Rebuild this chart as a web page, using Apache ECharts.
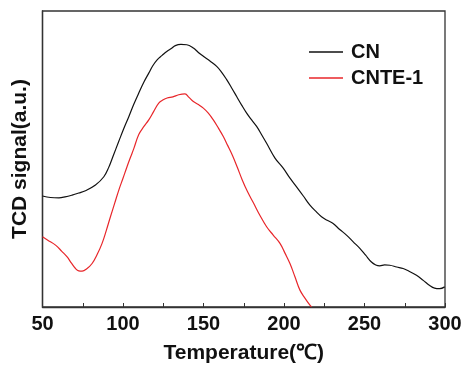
<!DOCTYPE html>
<html><head><meta charset="utf-8">
<script src="https://cdn.jsdelivr.net/npm/echarts@6/dist/echarts.min.js"></script>
<style>html,body{margin:0;padding:0;background:#fff}#c{width:464px;height:365px}</style>
</head><body><div id="c"></div>
<script>
var cnT = [50,55,60.2,64,68.4,72.5,76.7,82.9,88.1,91,94,97.4,100.5,103.6,106.7,109.8,113,116.0,118.5,121.2,124.3,127.4,130,132.5,136,139.6,143.7,146.8,149.9,154,158.2,161.3,164.4,167.5,170.6,173.7,176.8,179.9,183.0,186.1,189.2,194.4,199.5,203.6,207.8,212,216.1,220,223.3,226.8,230.5,234.6,238.8,243,247.1,250.7,254.3,257,259.5,262.5,265.7,270,274.0,278,282.3,286.5,290.5,293.5,296.7,299.8];
var cnV = [37.5,37.0,36.9,37.2,37.8,38.5,39.3,41.2,44.0,47.0,51.2,56.0,60.3,64.3,68.5,72.3,76.0,79.0,81.5,83.5,85.0,86.4,87.3,88.3,88.7,88.6,87.5,86.0,84.7,83.1,81.3,79.3,76.8,74.0,71.1,68.2,65.5,63.2,61.0,58.2,55.3,50.3,46.9,43.6,40.6,37.5,34.4,32.2,30.5,29.3,28.2,26.2,24.3,22.0,19.8,17.5,15.2,14.2,13.9,14.2,14.1,13.5,13.0,12.0,10.7,9.0,7.3,6.4,6.2,6.8];
var cnteT = [50,53.5,58.1,62,65.3,68,70.5,72.5,74.6,77.5,80.8,84,87.0,89.6,92.2,94.8,97.4,100,102.5,104.6,106.7,109.8,113,116.0,119,122.2,125,127.4,131,134.6,138.5,141,143.7,146.8,149.9,153,156.1,159.2,162.3,165,168,171,174,177.3,180.9,185,189.2,193.3,197.5,200.6,203.7,206.8,209.9,213,216.1,217.1];
var cnteV = [23.7,22.5,20.9,18.8,16.9,14.8,13.0,12.2,12.1,12.9,14.7,17.8,21.5,25.8,30.5,35.0,39.5,43.5,47.4,50.5,53.5,58.3,61.0,63.2,66.0,68.9,70.0,70.6,71.0,71.7,72.0,70.8,69.4,68.4,67.2,65.5,63.2,60.5,57.6,54.6,51.2,47.2,43.0,39.0,35.3,31.0,27.1,24.3,21.5,18.2,14.7,10.2,5.7,3.0,0.6,0];
var xTicks = [50,100,150,200,250,300];

function pairs(t, v){ return t.map(function(x,i){ return [x, v[i]]; }); }
var chart = echarts.init(document.getElementById('c'), null, {renderer:'canvas'});
var fontF = 'Arial, "Liberation Sans", sans-serif';
chart.setOption({
  animation:false,
  grid:{left:42.5,right:19,top:11,bottom:58,outerBoundsMode:'none',containLabel:false,show:true,borderColor:'#333',borderWidth:1.3,backgroundColor:'transparent'},
  legend:{
    orient:'vertical', left:304, top:37, itemWidth:34, itemHeight:1.5, itemGap:6, icon:'rect',
    textStyle:{fontFamily:fontF,fontWeight:'bold',fontSize:20,color:'#111',padding:[0,0,0,3]},
    data:['CN','CNTE-1']
  },
  xAxis:{
    type:'value', min:50, max:300, interval:25,
    axisLine:{show:true,lineStyle:{color:'#333',width:1.3}},
    axisTick:{show:true,inside:true,length:4,lineStyle:{color:'#333'}},
    splitLine:{show:false},
    axisLabel:{margin:7,fontFamily:fontF,fontWeight:'bold',fontSize:20,color:'#111',
      formatter:function(v){ return xTicks.indexOf(v)>=0 ? String(v) : ''; }},
    name:'Temperature(℃)', nameLocation:'middle', nameGap:36,
    nameTextStyle:{fontFamily:fontF,fontWeight:'bold',fontSize:21,color:'#111'}
  },
  yAxis:{
    type:'value', min:0, max:100,
    axisLine:{show:true,lineStyle:{color:'#333',width:1.3}},
    axisTick:{show:false}, axisLabel:{show:false}, splitLine:{show:false},
    name:'TCD signal(a.u.)', nameLocation:'middle', nameGap:12,
    nameTextStyle:{fontFamily:fontF,fontWeight:'bold',fontSize:21,color:'#111'}
  },
  series:[
    {name:'CN',type:'line',data:pairs(cnT,cnV),symbol:'none',smooth:0.4,lineStyle:{color:'#111',width:1.2},itemStyle:{color:'#111'},clip:true},
    {name:'CNTE-1',type:'line',data:pairs(cnteT,cnteV),symbol:'none',smooth:0.4,lineStyle:{color:'#e8262a',width:1.2},itemStyle:{color:'#e8262a'},clip:true}
  ]
});
</script></body></html>
